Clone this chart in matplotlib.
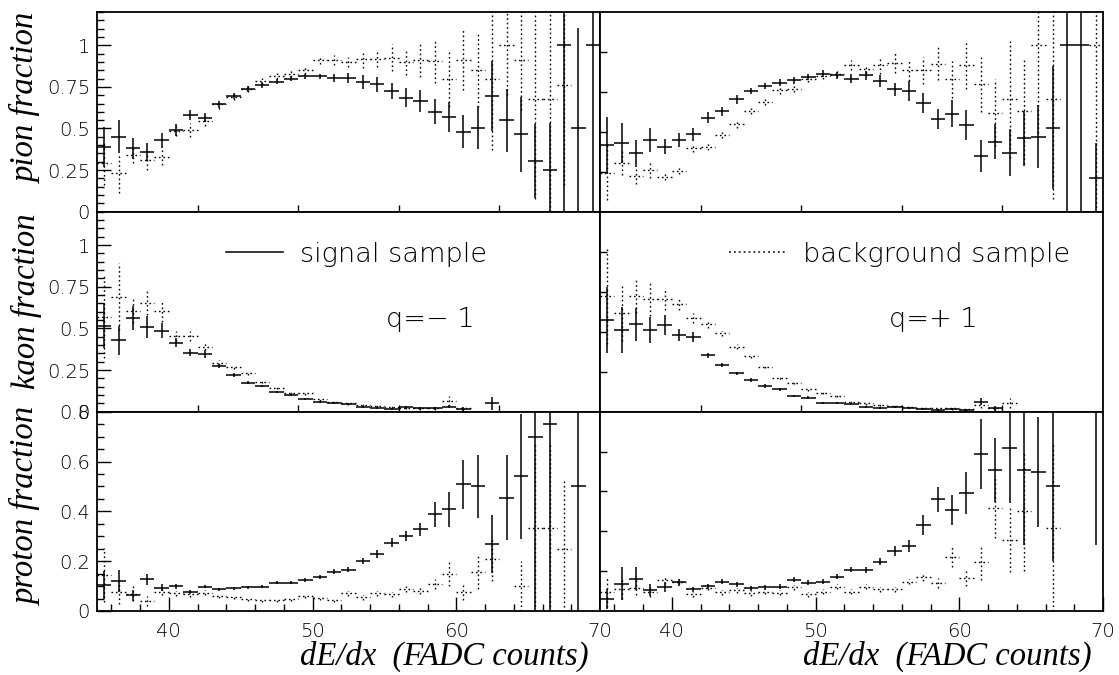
import numpy as np
import matplotlib
matplotlib.use("Agg")
import matplotlib.pyplot as plt
from matplotlib.ticker import FixedLocator, MultipleLocator, NullFormatter, FixedFormatter

# dE/dx binning (FADC counts), one bin per count
bin_edges = np.arange(35, 71, 1)

nan = np.nan

# ---- pion fraction, q = -1 ----
pion_neg_sig = [0.39, 0.45, 0.38, 0.36, 0.43, 0.49, 0.58, 0.565, 0.645, 0.695, 0.735, 0.76, 0.78, 0.80,
                0.815, 0.815, 0.805, 0.805, 0.78, 0.765, 0.725, 0.685, 0.665, 0.60, 0.57, 0.48, 0.505,
                0.695, 0.55, 0.465, 0.305, 0.25, 1.0, 0.505, 1.0]
pion_neg_sig_err = [0.12, 0.10, 0.065, 0.055, 0.045, 0.035, 0.03, 0.027, 0.023, 0.02, 0.018, 0.017, 0.015,
                    0.015, 0.015, 0.015, 0.025, 0.03, 0.04, 0.043, 0.05, 0.058, 0.068, 0.075, 0.09, 0.10,
                    0.13, 0.21, 0.19, 0.225, 0.22, 0.28, 1.0, 0.6, 1.0]
pion_neg_bkg = [0.29, 0.23, 0.34, 0.31, 0.33, 0.485, 0.49, 0.545, 0.645, 0.69, 0.74, 0.785, 0.815, 0.83,
                0.85, 0.91, 0.91, 0.90, 0.915, 0.92, 0.925, 0.90, 0.91, 0.905, 0.80, 0.91, 0.85, 0.80,
                1.0, 0.91, 0.675, 0.675, 0.76, nan, nan]
pion_neg_bkg_err = [0.13, 0.115, 0.05, 0.06, 0.05, 0.03, 0.04, 0.03, 0.025, 0.02, 0.02, 0.02, 0.02, 0.02,
                    0.02, 0.025, 0.03, 0.03, 0.05, 0.05, 0.08, 0.08, 0.10, 0.13, 0.17, 0.18, 0.22, 0.43,
                    0.3, 0.3, 0.6, 0.7, 0.6, nan, nan]

# ---- pion fraction, q = +1 ----
pion_pos_sig = [0.40, 0.41, 0.35, 0.43, 0.39, 0.43, 0.465, 0.565, 0.605, 0.675, 0.725, 0.755, 0.775, 0.79,
                0.81, 0.83, 0.82, 0.80, 0.82, 0.785, 0.735, 0.725, 0.655, 0.555, 0.59, 0.52, 0.335,
                0.42, 0.355, 0.44, 0.45, 0.505, 1.0, 1.0, 0.2]
pion_pos_sig_err = [0.17, 0.12, 0.08, 0.07, 0.045, 0.043, 0.04, 0.032, 0.027, 0.027, 0.02, 0.02, 0.02, 0.02,
                    0.02, 0.02, 0.02, 0.025, 0.028, 0.038, 0.038, 0.06, 0.06, 0.06, 0.08, 0.09, 0.094,
                    0.105, 0.14, 0.165, 0.19, 0.37, 1.0, 1.0, 0.21]
pion_pos_bkg = [0.235, 0.295, 0.215, 0.25, 0.21, 0.245, 0.38, 0.39, 0.46, 0.525, 0.605, 0.66, 0.73, 0.74,
                0.80, 0.815, 0.83, 0.88, 0.86, 0.88, 0.895, 0.85, 0.85, 0.89, 0.795, 0.88, 0.77, 0.595,
                0.675, 0.605, 1.0, 0.675, nan, nan, 1.0]
pion_pos_bkg_err = [0.165, 0.075, 0.05, 0.05, 0.02, 0.02, 0.02, 0.02, 0.02, 0.02, 0.02, 0.02, 0.02, 0.02,
                    0.02, 0.02, 0.02, 0.03, 0.025, 0.05, 0.06, 0.065, 0.08, 0.10, 0.11, 0.145, 0.17, 0.2,
                    0.35, 0.32, 0.53, 0.6, nan, nan, 1.0]

# ---- kaon fraction, q = -1 ----
kaon_neg_sig = [0.515, 0.43, 0.56, 0.51, 0.485, 0.415, 0.355, 0.345, 0.275, 0.22, 0.175, 0.155, 0.12, 0.10,
                0.075, 0.06, 0.055, 0.045, 0.026, 0.02, 0.016, 0.026, 0.02, 0.02, 0.03, 0.016, nan, 0.05,
                nan, nan, nan, nan, nan, nan, nan]
kaon_neg_sig_err = [0.135, 0.087, 0.072, 0.067, 0.045, 0.025, 0.02, 0.025, 0.012, 0.01, 0.008, 0.008, 0.007,
                    0.007, 0.006, 0.006, 0.006, 0.006, 0.006, 0.006, 0.006, 0.008, 0.008, 0.008, 0.01,
                    0.01, nan, 0.04, nan, nan, nan, nan, nan, nan, nan]
kaon_neg_bkg = [0.57, 0.69, 0.605, 0.655, 0.605, 0.455, 0.455, 0.39, 0.295, 0.27, 0.23, 0.18, 0.145, 0.115,
                0.11, 0.075, 0.06, 0.05, 0.04, 0.035, 0.03, 0.025, 0.02, 0.02, 0.065, 0.02, nan, nan,
                nan, nan, nan, nan, nan, nan, nan]
kaon_neg_bkg_err = [0.245, 0.2, 0.07, 0.075, 0.068, 0.03, 0.03, 0.02, 0.015, 0.012, 0.01, 0.01, 0.01, 0.01,
                    0.01, 0.008, 0.008, 0.008, 0.008, 0.008, 0.008, 0.008, 0.008, 0.01, 0.03, 0.01, nan,
                    nan, nan, nan, nan, nan, nan, nan, nan]

# ---- kaon fraction, q = +1 ----
kaon_pos_sig = [0.55, 0.49, 0.525, 0.49, 0.52, 0.46, 0.45, 0.34, 0.28, 0.23, 0.19, 0.155, 0.135, 0.095,
                0.085, 0.055, 0.05, 0.045, 0.03, 0.025, 0.03, 0.02, 0.015, 0.01, 0.015, 0.01, 0.06, 0.02,
                nan, nan, nan, nan, nan, nan, nan]
kaon_pos_sig_err = [0.2, 0.14, 0.1, 0.08, 0.06, 0.035, 0.03, 0.015, 0.01, 0.01, 0.01, 0.01, 0.008, 0.008,
                    0.008, 0.006, 0.006, 0.006, 0.006, 0.006, 0.006, 0.006, 0.006, 0.006, 0.006, 0.006,
                    0.02, 0.015, nan, nan, nan, nan, nan, nan, nan]
kaon_pos_bkg = [0.695, 0.595, 0.695, 0.675, 0.675, 0.645, 0.56, 0.525, 0.47, 0.39, 0.335, 0.27, 0.205,
                0.175, 0.135, 0.115, 0.095, 0.06, 0.05, 0.04, 0.035, 0.03, 0.025, 0.02, 0.02, 0.015, 0.04,
                0.02, 0.05, nan, nan, nan, nan, nan, nan]
kaon_pos_bkg_err = [0.29, 0.17, 0.1, 0.1, 0.065, 0.035, 0.03, 0.02, 0.015, 0.015, 0.012, 0.01, 0.01, 0.01,
                    0.01, 0.008, 0.008, 0.008, 0.008, 0.008, 0.008, 0.008, 0.008, 0.008, 0.008, 0.008,
                    0.015, 0.01, 0.03, nan, nan, nan, nan, nan, nan]

# ---- proton fraction, q = -1 ----
proton_neg_sig = [0.105, 0.12, 0.063, 0.127, 0.094, 0.10, 0.075, 0.098, 0.088, 0.091, 0.095, 0.098, 0.113,
                  0.113, 0.125, 0.138, 0.158, 0.166, 0.20, 0.228, 0.274, 0.30, 0.328, 0.388, 0.408, 0.508,
                  0.50, 0.27, 0.455, 0.54, 0.70, 0.75, nan, 0.50, nan]
proton_neg_sig_err = [0.055, 0.045, 0.022, 0.022, 0.015, 0.01, 0.008, 0.007, 0.006, 0.006, 0.006, 0.006,
                      0.006, 0.006, 0.007, 0.008, 0.01, 0.01, 0.012, 0.015, 0.018, 0.02, 0.025, 0.05, 0.07,
                      0.1, 0.125, 0.117, 0.17, 0.25, 0.70, 0.75, nan, 0.5, nan]
proton_neg_bkg = [0.145, 0.078, 0.07, 0.04, 0.078, 0.071, 0.067, 0.074, 0.06, 0.055, 0.047, 0.044, 0.044,
                  0.047, 0.06, 0.054, 0.045, 0.071, 0.055, 0.071, 0.068, 0.088, 0.082, 0.107, 0.149, 0.078,
                  0.158, 0.209, nan, 0.102, 0.335, 0.335, 0.25, nan, nan]
proton_neg_bkg_err = [0.107, 0.05, 0.03, 0.02, 0.015, 0.01, 0.01, 0.01, 0.008, 0.008, 0.008, 0.008, 0.008,
                      0.008, 0.008, 0.008, 0.008, 0.01, 0.01, 0.01, 0.01, 0.012, 0.012, 0.02, 0.048, 0.035,
                      0.07, 0.09, nan, 0.1, 0.335, 0.335, 0.27, nan, nan]

# ---- proton fraction, q = +1 ----
proton_pos_sig = [0.048, 0.11, 0.13, 0.085, 0.098, 0.115, 0.088, 0.10, 0.118, 0.107, 0.091, 0.095, 0.098,
                  0.125, 0.114, 0.118, 0.138, 0.165, 0.165, 0.198, 0.242, 0.262, 0.345, 0.448, 0.406,
                  0.473, 0.63, 0.566, 0.653, 0.564, 0.557, 0.50, nan, nan, 1.0]
proton_pos_sig_err = [0.04, 0.065, 0.045, 0.025, 0.02, 0.015, 0.01, 0.01, 0.01, 0.01, 0.01, 0.01, 0.01,
                      0.01, 0.01, 0.01, 0.01, 0.01, 0.012, 0.015, 0.02, 0.025, 0.04, 0.05, 0.06, 0.085,
                      0.14, 0.13, 0.22, 0.3, 0.22, 0.3, nan, nan, 0.735]
proton_pos_bkg = [0.078, 0.09, 0.094, 0.078, 0.125, 0.118, 0.068, 0.094, 0.075, 0.084, 0.071, 0.078, 0.074,
                  0.095, 0.068, 0.078, 0.098, 0.078, 0.098, 0.087, 0.087, 0.118, 0.135, 0.111, 0.218,
                  0.131, 0.195, 0.412, 0.285, 0.40, nan, 0.335, nan, nan, nan]
proton_pos_bkg_err = [0.06, 0.04, 0.03, 0.02, 0.015, 0.01, 0.01, 0.01, 0.01, 0.01, 0.01, 0.01, 0.01, 0.01,
                      0.01, 0.01, 0.01, 0.01, 0.01, 0.01, 0.01, 0.01, 0.015, 0.02, 0.04, 0.03, 0.07, 0.12,
                      0.13, 0.24, nan, 0.335, nan, nan, nan]

row_titles = ["pion fraction", "kaon fraction", "proton fraction"]
x_title = "dE/dx  (FADC counts)"
x_tick_values = [40, 50, 60, 70]
charge_labels = ["q=\u2212 1", "q=+ 1"]
legend_labels = ["signal sample", "background sample"]

series = [
    [(pion_neg_sig, pion_neg_sig_err, pion_neg_bkg, pion_neg_bkg_err),
     (pion_pos_sig, pion_pos_sig_err, pion_pos_bkg, pion_pos_bkg_err)],
    [(kaon_neg_sig, kaon_neg_sig_err, kaon_neg_bkg, kaon_neg_bkg_err),
     (kaon_pos_sig, kaon_pos_sig_err, kaon_pos_bkg, kaon_pos_bkg_err)],
    [(proton_neg_sig, proton_neg_sig_err, proton_neg_bkg, proton_neg_bkg_err),
     (proton_pos_sig, proton_pos_sig_err, proton_pos_bkg, proton_pos_bkg_err)],
]
y_max = [1.2, 1.2, 0.8]

W, H = 1119, 675
fig = plt.figure(figsize=(W / 100, H / 100), dpi=100)

SANS = ["DejaVu Sans"]
SANS_WEIGHT = 250
SERIF = ["Liberation Serif", "DejaVu Serif"]
DOTTED = (0, (1.2, 2.0))
TICK_FS = 14
TEXT_FS = 19.5

col_x = [(97, 600), (600, 1103)]
row_y = [(12, 211.7), (211.7, 411.7), (411.7, 611)]

lo_edges = bin_edges[:-1]
hi_edges = bin_edges[1:]
centers = 0.5 * (lo_edges + hi_edges)


def draw_fractions(ax, vals, errs, style, lw):
    v = np.asarray(vals, float)
    e = np.asarray(errs, float)
    ok = ~np.isnan(v)
    ax.hlines(v[ok], lo_edges[ok], hi_edges[ok], colors="k", linestyles=style, lw=lw)
    ax.vlines(centers[ok], v[ok] - e[ok], v[ok] + e[ok], colors="k", linestyles=style, lw=lw)


axes = [[None, None], [None, None], [None, None]]
for r in range(3):
    for c in range(2):
        x0, x1 = col_x[c]
        y0, y1 = row_y[r]
        ax = fig.add_axes([x0 / W, 1 - y1 / H, (x1 - x0) / W, (y1 - y0) / H])
        axes[r][c] = ax
        ax.set_xlim(35, 70)
        ax.set_ylim(0, y_max[r])
        for s in ax.spines.values():
            s.set_linewidth(1.3)
        sig, sig_err, bkg, bkg_err = series[r][c]
        draw_fractions(ax, bkg, bkg_err, DOTTED, 1.0)
        draw_fractions(ax, sig, sig_err, "solid", 1.1)

        ax.tick_params(which="both", direction="in", top=False, right=False, width=1.0)
        ax.tick_params(which="major", length=10)
        ax.tick_params(which="minor", length=5)

        # x axis
        if r == 2:
            ax.xaxis.set_major_locator(FixedLocator(x_tick_values))
            ax.xaxis.set_minor_locator(MultipleLocator(2))
            ax.set_xticklabels([str(t) for t in x_tick_values])
            for lab in ax.get_xticklabels():
                lab.set_fontfamily(SANS)
                lab.set_fontweight(SANS_WEIGHT)
                lab.set_fontsize(TICK_FS)
            ax.tick_params(axis="x", which="major", pad=8)
        else:
            ax.xaxis.set_major_locator(FixedLocator(np.linspace(35, 70, 6)[1:-1]))
            ax.xaxis.set_minor_locator(FixedLocator([]))
            ax.xaxis.set_major_formatter(NullFormatter())
            ax.tick_params(axis="x", which="major", length=5)

        # y axis
        if c == 0:
            if r < 2:
                ax.yaxis.set_major_locator(FixedLocator([0, 0.25, 0.5, 0.75, 1.0]))
                ax.yaxis.set_major_formatter(FixedFormatter(["0", "0.25", "0.5", "0.75", "1"]))
            else:
                ax.yaxis.set_major_locator(FixedLocator([0, 0.2, 0.4, 0.6, 0.8]))
                ax.yaxis.set_major_formatter(FixedFormatter(["0", "0.2", "0.4", "0.6", "0.8"]))
            ax.yaxis.set_minor_locator(MultipleLocator(0.05))
            for lab in ax.get_yticklabels():
                lab.set_fontfamily(SANS)
                lab.set_fontweight(SANS_WEIGHT)
                lab.set_fontsize(TICK_FS)
            ax.tick_params(axis="y", which="major", pad=5)
        else:
            ax.yaxis.set_major_locator(FixedLocator(np.linspace(0, y_max[r], 6)[1:-1]))
            ax.yaxis.set_minor_locator(FixedLocator([]))
            ax.yaxis.set_major_formatter(NullFormatter())
            ax.tick_params(axis="y", which="major", length=5)

# axis titles
title_tops = [13, 213, 407]
for r in range(3):
    fig.text(26 / W, 1 - title_tops[r] / H, row_titles[r], rotation=90, ha="center", va="top",
             family=SERIF, style="italic", fontsize=23.6)
for c in range(2):
    fig.text((col_x[c][1] - 11) / W, 1 - 641 / H, x_title, ha="right", va="top",
             family=SERIF, style="italic", fontsize=23.5)

# legend entries and charge labels in the kaon row
for c, style in enumerate(["solid", DOTTED]):
    ax = axes[1][c]
    ax.plot([0.257, 0.37], [0.8, 0.8], transform=ax.transAxes, color="k", lw=1.1, linestyle=style)
    ax.text(0.404, 0.785, legend_labels[c], transform=ax.transAxes, ha="left", va="center",
            family=SANS, fontweight=SANS_WEIGHT, fontsize=TEXT_FS)
    ax.text(0.575, 0.46, charge_labels[c], transform=ax.transAxes, ha="left", va="center",
            family=SANS, fontweight=SANS_WEIGHT, fontsize=TEXT_FS)

fig.savefig("out.png", dpi=100)
